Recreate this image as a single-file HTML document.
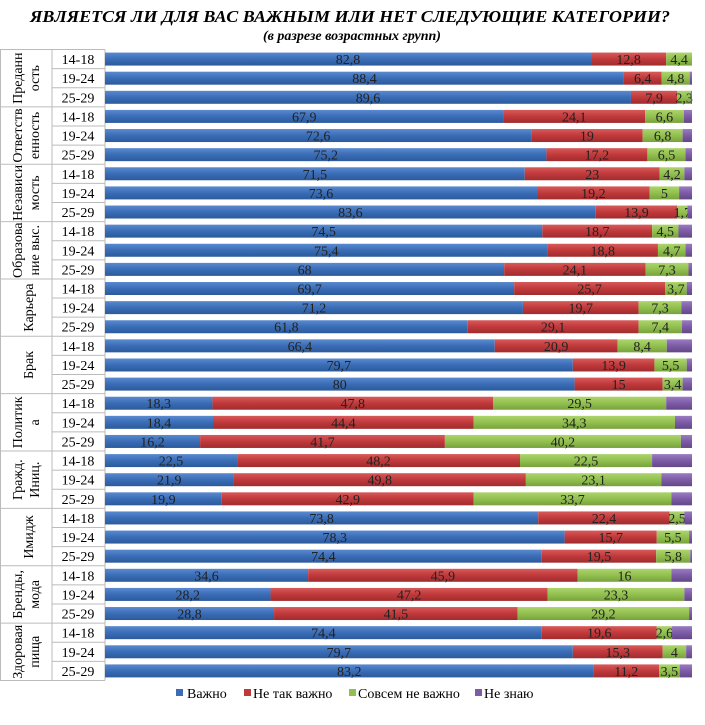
<!DOCTYPE html><html><head><meta charset="utf-8"><style>
body{margin:0;background:#fff}
svg text{font-family:"Liberation Serif",serif}
</style></head><body>
<svg id="s" width="705" height="720" xmlns="http://www.w3.org/2000/svg">
<defs><linearGradient id="gb" x1="0" y1="0" x2="0" y2="1"><stop offset="0" stop-color="#5a8ad0"/><stop offset=".5" stop-color="#3a6db6"/><stop offset="1" stop-color="#2c5a9c"/></linearGradient>
<linearGradient id="gr" x1="0" y1="0" x2="0" y2="1"><stop offset="0" stop-color="#d85a5a"/><stop offset=".5" stop-color="#c0393b"/><stop offset="1" stop-color="#a02c2e"/></linearGradient>
<linearGradient id="gg" x1="0" y1="0" x2="0" y2="1"><stop offset="0" stop-color="#acd46c"/><stop offset=".5" stop-color="#92c050"/><stop offset="1" stop-color="#78a23c"/></linearGradient>
<linearGradient id="gp" x1="0" y1="0" x2="0" y2="1"><stop offset="0" stop-color="#9a7cc2"/><stop offset=".5" stop-color="#7d5ba6"/><stop offset="1" stop-color="#634788"/></linearGradient></defs>
<text x="30" y="22" font-size="17" font-style="italic" font-weight="bold" textLength="640" lengthAdjust="spacingAndGlyphs">ЯВЛЯЕТСЯ ЛИ ДЛЯ ВАС ВАЖНЫМ ИЛИ НЕТ СЛЕДУЮЩИЕ КАТЕГОРИИ?</text>
<text x="352" y="40" text-anchor="middle" font-size="14" font-style="italic" font-weight="bold">(в разрезе возрастных групп)</text>
<g id="g"></g>
<g font-size="14">
<rect x="176" y="689" width="7" height="7" fill="#3a6db6"/><text x="187" y="698">Важно</text>
<rect x="244" y="689" width="7" height="7" fill="#c0393b"/><text x="253" y="698">Не так важно</text>
<rect x="349" y="689" width="7" height="7" fill="#92c050"/><text x="358" y="698">Совсем не важно</text>
<rect x="475" y="689" width="7" height="7" fill="#7d5ba6"/><text x="484" y="698">Не знаю</text>
</g>
</svg>
<script>
var D=[["Преданн","ость",[[82.8,12.8,4.4,0],[88.4,6.4,4.8,0.4],[89.6,7.9,2.3,0.2]]],
["Ответств","енность",[[67.9,24.1,6.6,1.4],[72.6,19,6.8,1.6],[75.2,17.2,6.5,1.1]]],
["Независи","мость",[[71.5,23,4.2,1.3],[73.6,19.2,5,2.2],[83.6,13.9,1.7,0.8]]],
["Образова","ние выс.",[[74.5,18.7,4.5,2.3],[75.4,18.8,4.7,1.1],[68,24.1,7.3,0.6]]],
["Карьера","",[[69.7,25.7,3.7,0.9],[71.2,19.7,7.3,1.8],[61.8,29.1,7.4,1.7]]],
["Брак","",[[66.4,20.9,8.4,4.3],[79.7,13.9,5.5,0.9],[80,15,3.4,1.6]]],
["Политик","а",[[18.3,47.8,29.5,4.4],[18.4,44.4,34.3,2.9],[16.2,41.7,40.2,1.9]]],
["Гражд.","Иниц.",[[22.5,48.2,22.5,6.8],[21.9,49.8,23.1,5.2],[19.9,42.9,33.7,3.5]]],
["Имидж","",[[73.8,22.4,2.5,1.3],[78.3,15.7,5.5,0.5],[74.4,19.5,5.8,0.3]]],
["Бренды,","мода",[[34.6,45.9,16,3.5],[28.2,47.2,23.3,1.3],[28.8,41.5,29.2,0.5]]],
["Здоровая","пища",[[74.4,19.6,2.6,3.4],[79.7,15.3,4,1],[83.2,11.2,3.5,2.1]]]];
var ages=["14-18","19-24","25-29"],F=["url(#gb)","url(#gr)","url(#gg)","url(#gp)"];
var h='',x0=105,W=587,P=19.12,T0=49.5;
for(var i=0;i<=33;i++){var y=T0+i*P;h+='<line x1="'+(i%3==0?0:52)+'" x2="105" y1="'+y+'" y2="'+y+'" stroke="#bbb"/>';}
h+='<line x1="0.5" x2="0.5" y1="'+T0+'" y2="'+(T0+33*P)+'" stroke="#bbb"/><line x1="52" x2="52" y1="'+T0+'" y2="'+(T0+33*P)+'" stroke="#bbb"/><line x1="105" x2="105" y1="'+T0+'" y2="'+(T0+33*P)+'" stroke="#bbb"/>';
D.forEach(function(c,gi){
 var cy=T0+(gi*3+1.5)*P;
 if(c[1]){h+='<text font-size="14" transform="translate(22,'+cy+') rotate(-90)" text-anchor="middle">'+c[0]+'</text><text font-size="14" transform="translate(39,'+cy+') rotate(-90)" text-anchor="middle">'+c[1]+'</text>';}
 else h+='<text font-size="14" transform="translate(33,'+cy+') rotate(-90)" text-anchor="middle">'+c[0]+'</text>';
 c[2].forEach(function(r,ri){
  var yc=T0+(gi*3+ri+0.5)*P,x=x0;
  h+='<text x="78" y="'+(yc+5)+'" font-size="14" text-anchor="middle">'+ages[ri]+'</text>';
  r.forEach(function(v,k){var w=v*W/100;if(w>0)h+='<rect x="'+x+'" y="'+(yc-6.5)+'" width="'+w+'" height="13" fill="'+F[k]+'"/>';
   if(k<3)h+='<text x="'+(x+w/2)+'" y="'+(yc+5)+'" font-size="14" text-anchor="middle" fill="#222">'+String(v).replace('.',',')+'</text>';x+=w;});
 });
});
document.getElementById('g').innerHTML=h;
</script>
</body></html>
